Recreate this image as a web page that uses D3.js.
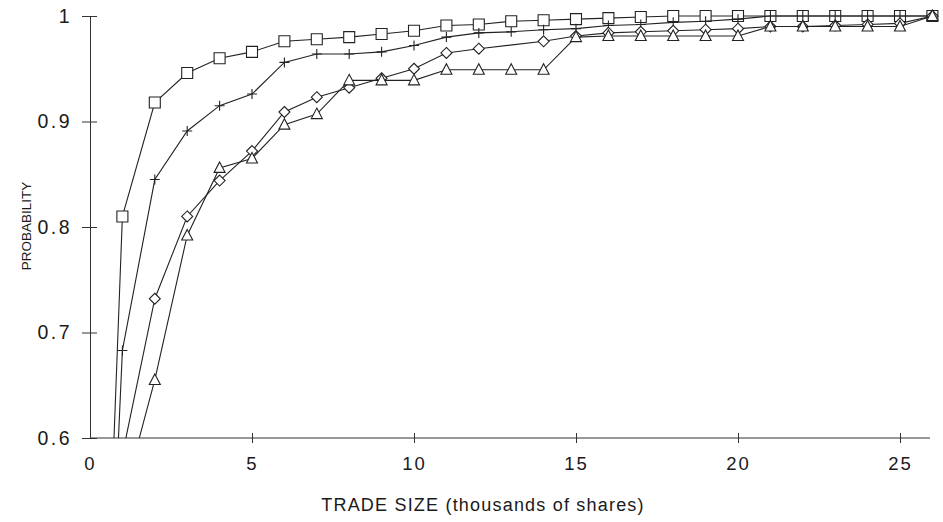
<!DOCTYPE html>
<html>
<head>
<meta charset="utf-8">
<script src="https://cdn.jsdelivr.net/npm/d3@7"></script>
<style>
  body { margin: 0; background: #fff; }
  text { font-family: "Liberation Sans", Arial, sans-serif; fill: #1a1a1a; }
</style>
</head>
<body>
<div id="chart"></div>
<script>
// trade size in thousands of shares
const tradeSize = [0,1,2,3,4,5,6,7,8,9,10,11,12,13,14,15,16,17,18,19,20,21,22,23,24,25,26];

const squareProb = [0,0.81,0.918,0.946,0.960,0.966,0.976,0.978,0.980,0.983,0.986,0.991,0.992,0.995,0.996,0.997,0.998,0.999,1,1,1,1,1,1,1,1,1];
const plusProb = [0,0.683,0.845,0.891,0.915,0.926,0.956,0.964,0.964,0.966,0.972,0.980,0.984,0.985,0.987,0.988,0.991,0.992,0.994,0.995,0.997,1,1,1,1,1,1];
const diamondProb = [0,0.584,0.732,0.810,0.844,0.872,0.909,0.923,0.932,0.941,0.950,0.965,0.969,null,0.976,0.981,0.984,0.985,0.986,0.987,0.988,0.990,0.990,0.991,0.992,0.993,1];
const triangleProb = [0,0.54,0.655,0.792,0.856,0.865,0.897,0.907,0.939,0.939,0.939,0.949,0.949,0.949,0.949,0.980,0.981,0.981,0.981,0.981,0.981,0.990,0.990,0.990,0.990,0.990,1];

const xTicks = [0,5,10,15,20,25];
const yTicks = [0.6,0.7,0.8,0.9,1];

const chartWidth = 943;
const chartHeight = 522;
const margin = { top: 16, right: 11, bottom: 84, left: 90 };
const width = chartWidth - margin.left - margin.right;
const height = chartHeight - margin.top - margin.bottom;

const svg = d3.select("#chart")
    .append("svg")
    .attr("width", chartWidth)
    .attr("height", chartHeight)
    .append("g")
    .attr("transform", `translate(${margin.left}, ${margin.top})`);

const xScale = d3.scaleLinear().domain([0, 26]).range([0, 842.4]);
const yScale = d3.scaleLinear().domain([0.6, 1]).range([height, 0]);

svg.append("clipPath")
    .attr("id", "plot-clip")
    .append("rect")
    .attr("x", 0)
    .attr("y", -margin.top)
    .attr("width", width + margin.right)
    .attr("height", height + margin.top);

// axes
const xAxis = d3.axisBottom(xScale).tickValues(xTicks).tickFormat(d3.format("d")).tickSizeOuter(0);
const yAxis = d3.axisLeft(yScale).tickValues(yTicks).tickFormat(d => d === 1 ? "1" : d3.format(".1f")(d)).tickSizeOuter(0);

const gx = svg.append("g")
    .attr("transform", `translate(0, ${height})`)
    .call(xAxis);
gx.select(".domain").attr("d", `M0,0H${width - 2}`).attr("stroke", "#333");
gx.selectAll(".tick line").attr("y1", -5).attr("y2", 5).attr("stroke", "#333");
gx.selectAll(".tick").filter(d => d === 0).select("line").remove();
gx.selectAll(".tick text")
    .attr("y", 19)
    .attr("dy", "0.71em")
    .style("font-size", "18.5px")
    .style("letter-spacing", "2px");

const gy = svg.append("g").call(yAxis);
gy.select(".domain").attr("stroke", "#333");
gy.selectAll(".tick line").attr("x1", -8).attr("x2", 7).attr("stroke", "#333");
gy.selectAll(".tick text")
    .attr("x", -18)
    .style("font-size", "19.5px")
    .style("letter-spacing", "2.5px");

// axis titles
svg.append("text")
    .attr("x", 393)
    .attr("y", height + 73)
    .attr("text-anchor", "middle")
    .style("font-size", "18px")
    .style("letter-spacing", "1.2px")
    .text("TRADE SIZE (thousands of shares)");

svg.append("text")
    .attr("transform", "rotate(-90)")
    .attr("x", -(226 - margin.top))
    .attr("y", -59)
    .attr("text-anchor", "middle")
    .style("font-size", "13.5px")
    .text("PROBABILITY");

// series
const series = [
    { name: "square", values: squareProb, marker: "M-5.5,-5.5H5.5V5.5H-5.5Z" },
    { name: "plus", values: plusProb, marker: "M-5,0H5M0,-5V5" },
    { name: "diamond", values: diamondProb, marker: "M0,-5.5L5.5,0L0,5.5L-5.5,0Z" },
    { name: "triangle", values: triangleProb, marker: "M0,-6L5.5,4.5H-5.5Z" }
];

const line = d3.line()
    .x(d => xScale(d.x))
    .y(d => yScale(d.y));

const plot = svg.append("g").attr("clip-path", "url(#plot-clip)");

series.forEach(s => {
    const pts = tradeSize
        .map((x, i) => ({ x: x, y: s.values[i] }))
        .filter(d => d.y !== null);

    plot.append("path")
        .datum(pts)
        .attr("class", "line-" + s.name)
        .attr("d", line)
        .attr("fill", "none")
        .attr("stroke", "#222")
        .attr("stroke-width", 1.1);

    plot.selectAll(".mark-" + s.name)
        .data(pts.filter(d => d.y >= 0.6))
        .enter().append("path")
        .attr("class", "mark-" + s.name)
        .attr("transform", d => `translate(${xScale(d.x)}, ${yScale(d.y)})`)
        .attr("d", s.marker)
        .attr("fill", s.name === "plus" ? "none" : "#fff")
        .attr("stroke", "#222")
        .attr("stroke-width", 1.1);
});
</script>
</body>
</html>
